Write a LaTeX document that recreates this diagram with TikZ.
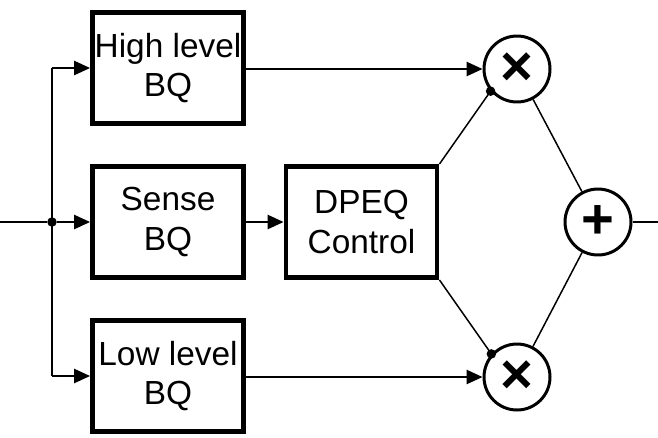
\documentclass[tikz,border=0pt]{standalone}
\usepackage{fontspec}
\setmainfont{Liberation Sans}
\usepackage{tikz}
\usetikzlibrary{positioning, arrows.meta}
\definecolor{ink}{HTML}{000000}
\newcommand{\bigop}[1]{\fontsize{32}{32}\selectfont\bfseries #1}

\begin{document}
\begin{tikzpicture}[x=0.02cm, y=-0.02cm, blk/.style={draw=ink, line width=2.8pt, minimum width=3.02cm, minimum height=2.22cm, align=center, inner sep=0pt, font=\fontsize{19}{22.7}\selectfont}, op/.style={draw=ink, circle, line width=1.7pt, minimum size=1.32cm, inner sep=0pt}, arr/.style={-{Triangle[length=9pt, width=8pt]}, line width=1.1pt}, wire/.style={line width=1.1pt}, diag/.style={line width=0.85pt}, dot/.style={circle, fill=ink, inner sep=0pt, minimum size=0.19cm}]
\useasboundingbox (0,0) rectangle (658,437);
\node[blk] (hi) at (168,68) {High level\\BQ};
\node[blk] (sense) at (168,222) {Sense\\BQ};
\node[blk] (lo) at (168,376) {Low level\\BQ};
\node[blk] (dpeq) at (361.5,222) {DPEQ\\Control};
\node[op] (mtop) at (517,69) {\bigop{×}};
\node[op] (mbot) at (517,377) {\bigop{×}};
\node[op] (sum) at (598,222) {\bigop{+}};
\coordinate (in) at (0,222); \coordinate (out) at (658,222);
\node[dot] (split) at (52,222) {};
\coordinate (tophook) at (52,68); \coordinate (bothook) at (52,376);
\draw[wire] (in)--(split); \draw[wire] (tophook)--(bothook); \draw[wire] (sum)--(out);
\draw[arr] (tophook)--(hi); \draw[arr] (split)--(sense); \draw[arr] (bothook)--(lo); \draw[arr] (sense)--(dpeq);
\draw[arr] (hi.east|-mtop)--(mtop); \draw[arr] (lo.east|-mbot)--(mbot);
\draw[diag] (dpeq.north east)--(mtop.220); \draw[diag] (dpeq.south east)--(mbot.138);
\node[dot] at (mtop.220) {}; \node[dot] at (mbot.138) {};
\draw[diag] (mtop)--(sum); \draw[diag] (mbot)--(sum);
\end{tikzpicture}
\end{document}
